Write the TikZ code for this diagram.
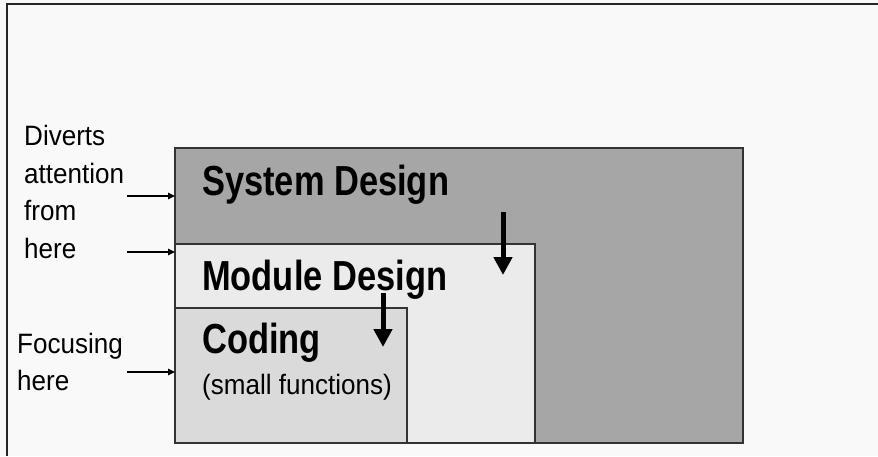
\documentclass[tikz,border=0pt]{standalone}
\usepackage{fontspec}
\setmainfont{Liberation Sans}[FakeStretch=0.93]
\newfontfamily\headfont{Liberation Sans}[FakeStretch=0.82]
\usetikzlibrary{arrows.meta}
\definecolor{paper}{HTML}{F9F9F9}
\definecolor{sysgray}{HTML}{A6A6A6}
\definecolor{modgray}{HTML}{EBEBEB}
\definecolor{codgray}{HTML}{DADADA}
\definecolor{edge}{HTML}{333333}
\tikzset{
  levelbox/.style={draw=edge, line width=1.5pt},
  heading/.style={anchor=base west, inner sep=0pt, font=\headfont\bfseries\fontsize{42}{42}\selectfont},
  note/.style={anchor=north west, inner sep=0pt, align=left, font=\fontsize{28}{37.5}\selectfont},
  pointer/.style={-{Triangle[length=7pt,width=6.5pt]}, line width=1.2pt},
  descend/.style={-{Triangle[length=18pt,width=18pt]}, line width=5pt}
}
\begin{document}
\begin{tikzpicture}[x=1pt,y=-1pt]
  \useasboundingbox[fill=paper] (0,0) rectangle (878,456);
  % frame
  \draw[line width=2pt, draw=black!85] (7,456) -- (7,4) -- (878,4);
  % the three levels
  \fill[sysgray] (175,148) rectangle (743,443);
  \draw[levelbox] (175,148) rectangle (743,443);
  \fill[modgray] (175,244) rectangle (535,443);
  \draw[levelbox] (175,244) rectangle (535,443);
  \fill[codgray] (175,308) rectangle (407,443);
  \draw[levelbox] (175,308) rectangle (407,443);
  \node[heading] (sys) at (202,195) {System Design};
  \node[heading] (mod) at (202,290) {Module Design};
  \node[heading] (cod) at (202,353) {Coding};
  \node[anchor=base west, inner sep=0pt, font=\fontsize{28}{28}\selectfont] (small) at (202,394) {(small functions)};
  % left notes
  \node[note] (divert) at (24,125.5) {Diverts\\attention\\from\\here};
  \node[note] (focus) at (17,333) {Focusing\\here};
  \coordinate (p1) at (127,196);
  \coordinate (q1) at (175,196);
  \coordinate (p2) at (127,252);
  \coordinate (q2) at (175,252);
  \coordinate (p3) at (127,372);
  \coordinate (q3) at (175,372);
  \draw[pointer] (p1) -- (q1);
  \draw[pointer] (p2) -- (q2);
  \draw[pointer] (p3) -- (q3);
  % going down a level
  \coordinate (s1) at (503,212);
  \coordinate (t1) at (503,275);
  \coordinate (s2) at (383,293);
  \coordinate (t2) at (383,347);
  \draw[descend] (s1) -- (t1);
  \draw[descend] (s2) -- (t2);
\end{tikzpicture}
\end{document}
